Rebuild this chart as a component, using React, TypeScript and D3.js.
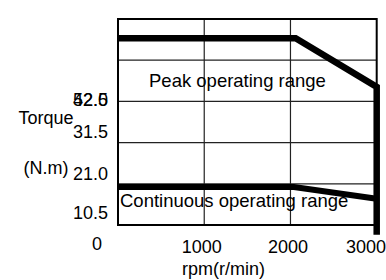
import React, { useEffect, useRef } from 'react';
import * as d3 from 'd3';

// torque-speed curve points (rpm, N.m)
const peakRpm = [0, 2060, 3000, 3000];
const peakTorque = [47.6, 47.6, 35.2, -2.5];
const contRpm = [0, 2040, 3000];
const contTorque = [9.7, 9.7, 6.7];

const yTicks = [0, 10.5, 21.0, 31.5, 42.0, 52.5];
const yTickLabels = ['0', '10.5', '21.0', '31.5', '42.0', '52.5'];
const xTicks = [1000, 2000, 3000];
const xTickLabels = ['1000', '2000', '3000'];

const FONT = 'Liberation Sans, Arial, sans-serif';

const TorqueChart = () => {
  const svgRef = useRef<SVGSVGElement>(null);

  useEffect(() => {
    const width = 386;
    const left = 118;
    const right = 376.7;
    const top = 19;
    const bottom = 225;

    const svg = d3.select(svgRef.current);
    svg.selectAll('*').remove();

    const x = d3.scaleLinear().domain([0, 3000]).range([left, right]);
    const y = d3.scaleLinear().domain([0, 52.5]).range([bottom, top]);
    // the tick labels sit off their grid lines in the original
    const yLab = d3.scaleLinear()
      .domain([10.5, 21.0, 31.5, 42.0, 52.5])
      .range([213, 174, 131.5, 100, 100]);

    // grid
    const grid = svg.append('g');
    grid.selectAll('.hg')
      .data(yTicks.slice(1, -1))
      .enter()
      .append('line')
      .attr('x1', left).attr('x2', right)
      .attr('y1', d => y(d)).attr('y2', d => y(d))
      .attr('stroke', '#222').attr('stroke-width', 1.2);
    grid.selectAll('.vg')
      .data(xTicks.slice(0, -1))
      .enter()
      .append('line')
      .attr('x1', d => x(d)).attr('x2', d => x(d))
      .attr('y1', top).attr('y2', bottom)
      .attr('stroke', '#222').attr('stroke-width', 1.2);

    // frame
    svg.append('rect')
      .attr('x', left).attr('y', top)
      .attr('width', right - left).attr('height', bottom - top)
      .attr('fill', 'none').attr('stroke', '#000').attr('stroke-width', 2);

    // region labels
    svg.append('text')
      .attr('x', 149).attr('y', 87)
      .attr('font-size', 18.5).attr('font-family', FONT)
      .text('Peak operating range');
    svg.append('text')
      .attr('x', 120).attr('y', 207)
      .attr('font-size', 18.5).attr('font-family', FONT)
      .text('Continuous operating range');

    const line = d3.line<[number, number]>()
      .x(d => x(d[0]))
      .y(d => y(d[1]));

    svg.append('path')
      .datum(peakRpm.map((r, i) => [r, peakTorque[i]] as [number, number]))
      .attr('fill', 'none').attr('stroke', '#000')
      .attr('stroke-width', 6.5).attr('stroke-linejoin', 'miter')
      .attr('d', line);
    svg.append('path')
      .datum(contRpm.map((r, i) => [r, contTorque[i]] as [number, number]))
      .attr('fill', 'none').attr('stroke', '#000')
      .attr('stroke-width', 6).attr('stroke-linejoin', 'miter')
      .attr('d', line);

    // y tick labels
    svg.selectAll('.yl')
      .data(yTicks.slice(1))
      .enter()
      .append('text')
      .attr('x', 108)
      .attr('y', d => yLab(d))
      .attr('dy', '0.35em')
      .attr('text-anchor', 'end')
      .attr('font-size', 18).attr('font-family', FONT)
      .text((d, i) => yTickLabels[i + 1]);

    // origin label
    svg.append('text')
      .attr('x', x(0) - 21).attr('y', 244).attr('dy', '0.35em')
      .attr('text-anchor', 'middle')
      .attr('font-size', 18).attr('font-family', FONT)
      .text(yTickLabels[0]);

    // x tick labels, kept inside the picture
    svg.selectAll('.xl')
      .data(xTicks)
      .enter()
      .append('text')
      .attr('x', d => Math.min(x(d) - 2.5, width - 20))
      .attr('y', 247).attr('dy', '0.35em')
      .attr('text-anchor', 'middle')
      .attr('font-size', 18).attr('font-family', FONT)
      .text((d, i) => xTickLabels[i]);

    // axis titles
    svg.append('text')
      .attr('x', 46).attr('y', 117.5).attr('dy', '0.35em')
      .attr('text-anchor', 'middle')
      .attr('font-size', 18).attr('font-family', FONT)
      .text('Torque');
    svg.append('text')
      .attr('x', 46).attr('y', 168).attr('dy', '0.35em')
      .attr('text-anchor', 'middle')
      .attr('font-size', 18).attr('font-family', FONT)
      .text('(N.m)');
    svg.append('text')
      .attr('x', 223.5).attr('y', 269).attr('dy', '0.35em')
      .attr('text-anchor', 'middle')
      .attr('font-size', 18).attr('font-family', FONT)
      .text('rpm(r/min)');
  }, []);

  return (
    <svg
      ref={svgRef}
      width={386}
      height={280}
      viewBox="0 0 386 280"
      style={{ position: 'absolute', left: 0, top: 0, background: 'white' }}
    />
  );
};

export default function App() {
  return <TorqueChart />;
}
